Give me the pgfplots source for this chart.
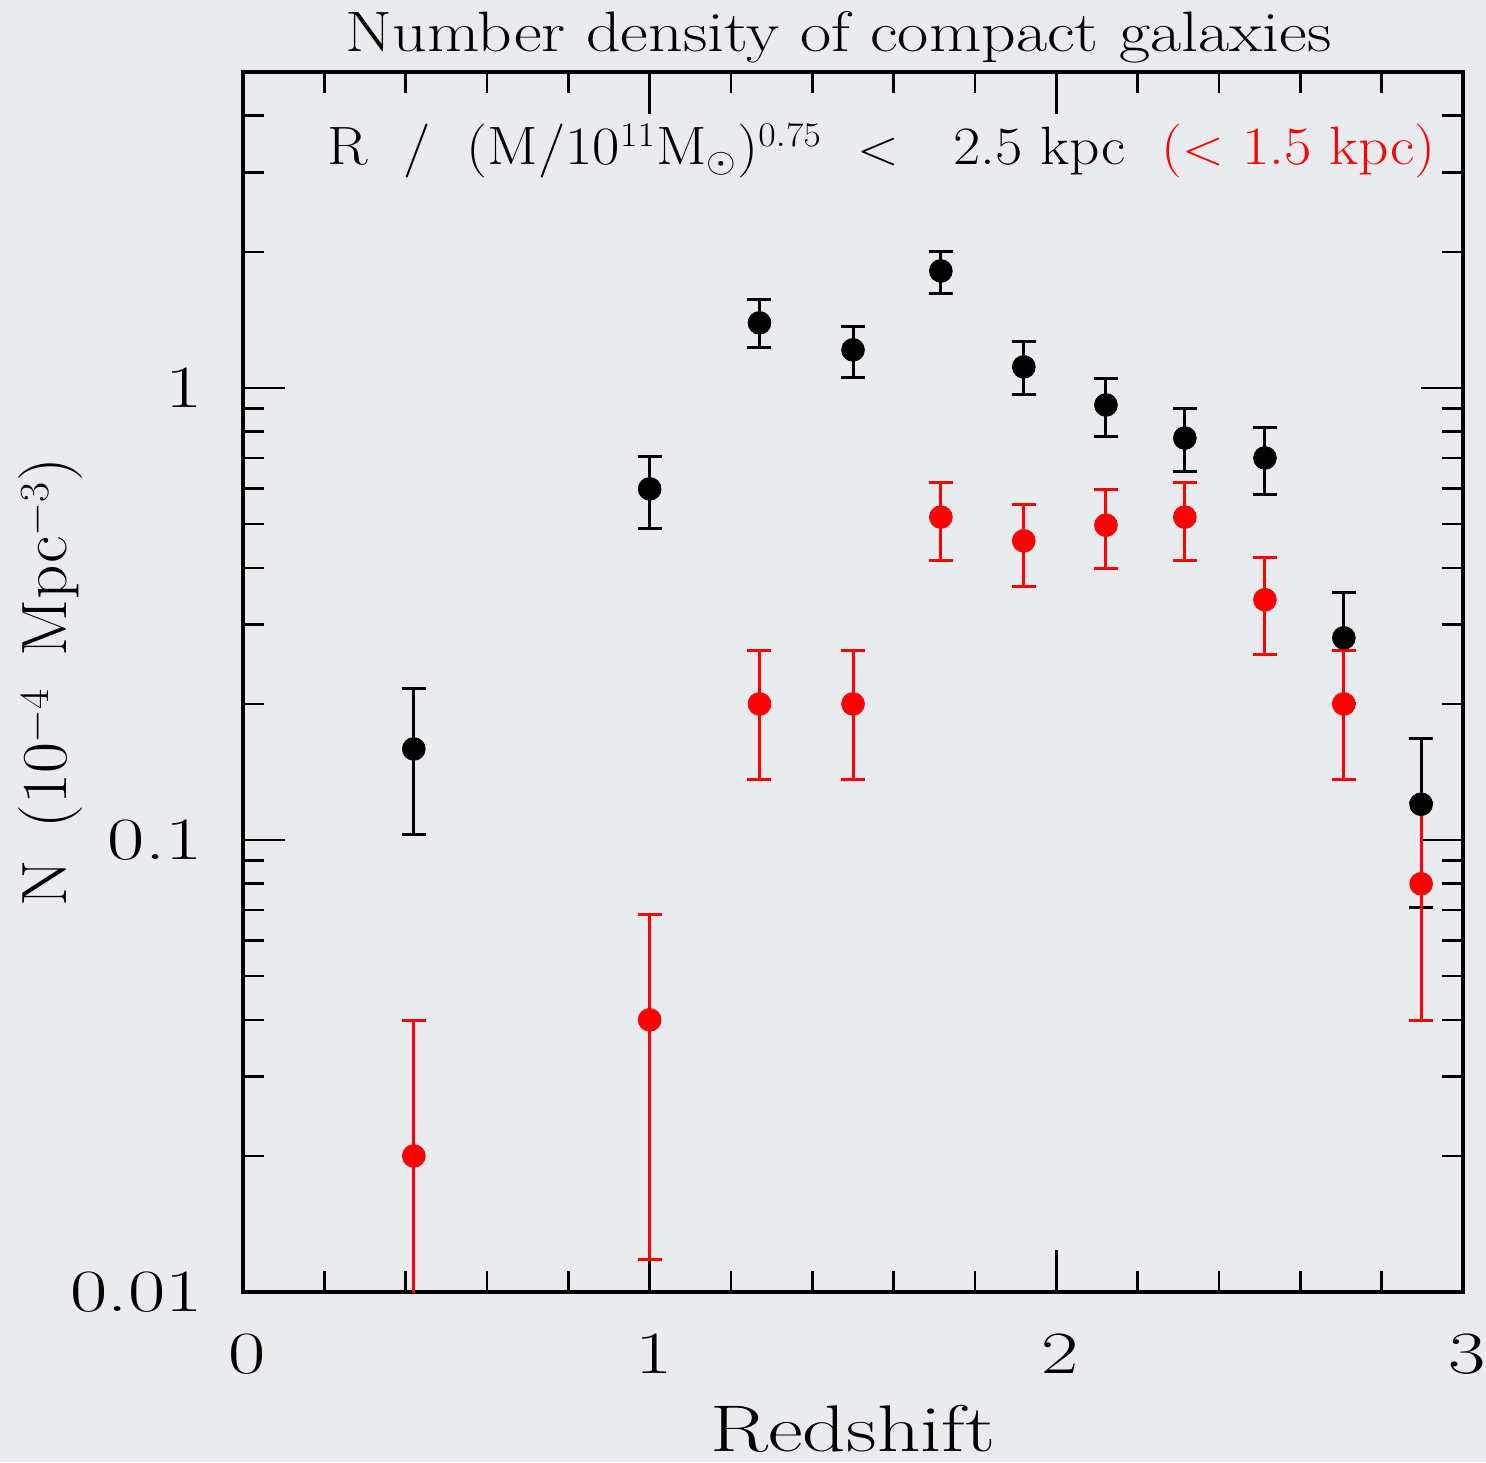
\documentclass[border=0pt]{standalone}
\usepackage{fontspec}
\usepackage{graphicx}
\usepackage{pgfplots}
\pgfplotsset{compat=1.18}
\definecolor{bgcol}{RGB}{233,235,239}
\newcommand{\tl}[1]{\scalebox{1.35}[1]{#1}}
\begin{document}
\begin{tikzpicture}
\fill[bgcol] (-121.5pt,-85pt) rectangle (621.5pt,646pt);
\begin{axis}[
  scale only axis, width=610pt, height=610pt,
  at={(0pt,0pt)}, anchor=south west,
  xmin=0, xmax=3, ymin=0.01, ymax=5, ymode=log,
  xtick={0,1,2,3}, xticklabels={\tl{0},\tl{1},\tl{2},\tl{3}}, minor x tick num=4,
  ytick={0.01,0.1,1}, yticklabels={\tl{0.01},\tl{0.1},\tl{1}},
  minor ytick={0.02,0.03,0.04,0.05,0.06,0.07,0.08,0.09,0.2,0.3,0.4,0.5,0.6,0.7,0.8,0.9,2,3,4},
  tick align=inside, major tick length=21pt, minor tick length=10.5pt,
  every tick/.style={black, line width=1.3pt},
  axis line style={line width=2pt},
  /pgf/number format/assume math mode=true,
  tick label style={font=\fontsize{30}{33}\selectfont},
  xticklabel style={anchor=north, inner sep=0pt, yshift=-20.5pt, xshift=2pt},
  yticklabel style={anchor=east, inner sep=0pt, xshift=-20pt},
  xlabel={\scalebox{1.29}[1]{Redshift}},
  ylabel={\scalebox{1.05}[1]{N\, (10$^{-4}$\, Mpc$^{-3}$)}},
  xlabel style={font=\fontsize{33}{36}\selectfont, at={(axis description cs:0.5,-0.112)}, anchor=center},
  ylabel style={font=\fontsize{32}{35}\selectfont, at={(axis description cs:-0.158,0.5)}, anchor=center},
  error bars/error bar style={line width=1.5pt},
  error bars/error mark options={rotate=90, mark size=6pt, line width=1.5pt},
]
\addplot[only marks, black, mark=*, mark size=5.7pt, mark options={solid, fill=black, draw=black},
  error bars/.cd, y dir=both, y explicit]
coordinates {
  (0.42,0.159)  += (0,0.057) -= (0,0.056)
  (1.00,0.598)  += (0,0.109) -= (0,0.110)
  (1.27,1.393)  += (0,0.173) -= (0,0.167)
  (1.50,1.214)  += (0,0.157) -= (0,0.157)
  (1.716,1.815) += (0,0.185) -= (0,0.200)
  (1.92,1.113)  += (0,0.151) -= (0,0.148)
  (2.122,0.917) += (0,0.130) -= (0,0.134)
  (2.316,0.775) += (0,0.124) -= (0,0.123)
  (2.513,0.700) += (0,0.116) -= (0,0.120)
  (2.707,0.280) += (0,0.072) -= (0,0.080)
  (2.897,0.120) += (0,0.048) -= (0,0.049)
};
\addplot[only marks, red, mark=*, mark size=5.7pt, mark options={solid, fill=red, draw=red},
  error bars/.cd, y dir=both, y explicit]
coordinates {
  (0.42,0.020)  += (0,0.0198) -= (0,0.0115)
  (1.00,0.040)  += (0,0.0283) -= (0,0.0282)
  (1.27,0.200)  += (0,0.062) -= (0,0.064)
  (1.50,0.200)  += (0,0.062) -= (0,0.064)
  (1.716,0.518) += (0,0.099) -= (0,0.102)
  (1.92,0.459)  += (0,0.092) -= (0,0.096)
  (2.122,0.497) += (0,0.098) -= (0,0.099)
  (2.316,0.518) += (0,0.099) -= (0,0.102)
  (2.513,0.340) += (0,0.081) -= (0,0.083)
  (2.707,0.200) += (0,0.062) -= (0,0.064)
  (2.897,0.080) += (0,0.041) -= (0,0.0402)
};
\end{axis}
\node[font=\fontsize{28.5}{31}\selectfont, anchor=base, inner sep=0pt] at (297.75pt,620pt)
  {\scalebox{1.19}[1]{Number density of compact galaxies}};
\node[font=\fontsize{27}{30}\selectfont, anchor=base west, inner sep=0pt] at (42pt,563.5pt)
  {\scalebox{1.10}[1]{R\ \ /\ \ (M/10$^{11}$M$_\odot$)$^{0.75}$\ \ $<$\ \ \ 2.5\ kpc\ \ \textcolor{red}{($<$\ 1.5\ kpc)}}};
\end{tikzpicture}
\end{document}
